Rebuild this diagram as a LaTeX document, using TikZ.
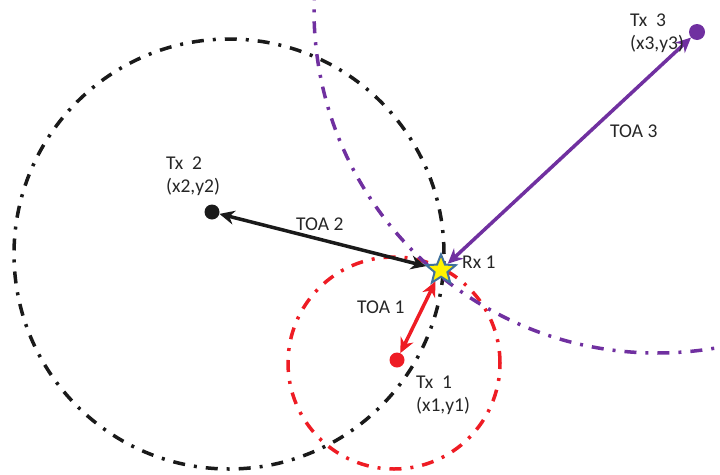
\documentclass[tikz,border=0pt]{standalone}
\usepackage{fontspec}
\setmainfont{Carlito}
\usetikzlibrary{arrows.meta,shapes.geometric}
\definecolor{cblack}{HTML}{1A1A1A}
\definecolor{cred}{HTML}{EE1C24}
\definecolor{cpurple}{HTML}{7030A0}
\definecolor{cstar}{HTML}{41719C}
\definecolor{ctext}{HTML}{262626}
\tikzset{
  ring/.style={line width=3.5pt, dash pattern=on 12pt off 9pt on 3pt off 9pt},
  dotnode/.style={circle, inner sep=0pt, minimum size=15pt},
  toa/.style={line width=3.5pt, {Stealth[length=15pt,width=14pt]}-{Stealth[length=15pt,width=14pt]}},
  lbl/.style={text=ctext, font=\fontsize{19.5}{23}\selectfont, inner sep=0pt, align=left},
}
\begin{document}
\begin{tikzpicture}[x=1pt,y=-1pt]
\useasboundingbox (0,0) rectangle (720,474);
% circles
\draw[ring, cblack] (229,254) circle[radius=215pt];
\draw[ring, cred] (394,363) circle[radius=106pt];
\draw[ring, cpurple] (657,10) circle[radius=343pt];
% nodes
\node[dotnode, fill=cblack] (tx2) at (212,212) {};
\node[dotnode, fill=cred] (tx1) at (397,360) {};
\node[dotnode, fill=cpurple, minimum size=16pt] (tx3) at (697,32) {};
\node[star, star points=5, star point ratio=2.3, minimum size=31pt, inner sep=0pt,
      fill=yellow, draw=cstar, line width=2pt] (rx) at (441,270) {};
% connectors
\draw[toa, cblack] (tx2) -- (rx);
\draw[toa, cred] (tx1) -- (rx);
\draw[toa, cpurple] (rx) -- (tx3);
% labels
\node[lbl, anchor=west] (l2) at (166,176) {Tx\ \ 2\\(x2,y2)};
\node[lbl, anchor=west] (l3) at (630,33) {Tx\ \ 3\\(x3,y3)};
\node[lbl, anchor=west] (l1) at (416,395) {Tx\ \ 1\\(x1,y1)};
\node[lbl, anchor=west] (r1) at (462,262) {Rx 1};
\node[lbl, anchor=west] (t2) at (296,224) {TOA 2};
\node[lbl, anchor=west] (t1) at (357,307) {TOA 1};
\node[lbl, anchor=west] (t3) at (610,131) {TOA 3};
\end{tikzpicture}
\end{document}
